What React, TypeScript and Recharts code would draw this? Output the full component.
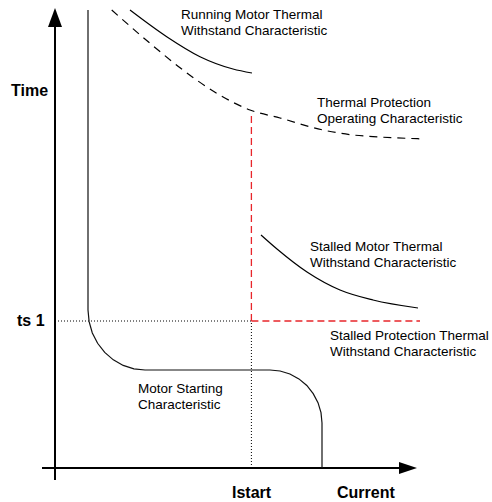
import React from 'react';
import { ComposedChart, Line, XAxis, YAxis, ReferenceLine, ReferenceDot } from 'recharts';

// units: current (x) 0..100, time (y) 0..120
const startingCurve = [
  { x: 13.25, y: 119.5 },
  { x: 13.25, y: 44.5 },
  { x: 13.53, y: 41.58 },
  { x: 14.33, y: 38.75 },
  { x: 15.65, y: 36.18 },
  { x: 17.43, y: 33.9 },
  { x: 19.58, y: 32.03 },
  { x: 22.05, y: 30.65 },
  { x: 24.73, y: 29.8 },
  { x: 27.5, y: 29.5 },
  { x: 58.75, y: 29.5 },
  { x: 61.28, y: 29.25 },
  { x: 63.73, y: 28.5 },
  { x: 65.98, y: 27.28 },
  { x: 67.95, y: 25.63 },
  { x: 69.55, y: 23.6 },
  { x: 70.75, y: 21.33 },
  { x: 71.5, y: 18.83 },
  { x: 71.75, y: 16.25 },
  { x: 71.75, y: 5 },
];

const runningWithstand = [
  { x: 23.75, y: 119.5 },
  { x: 32.93, y: 112.83 },
  { x: 41.25, y: 107.83 },
  { x: 49.5, y: 104.75 },
  { x: 54.25, y: 103.75 },
];

const thermalProtection = [
  { x: 19.18, y: 119.5 },
  { x: 28.75, y: 111.18 },
  { x: 37, y: 104.5 },
  { x: 45.43, y: 98.68 },
  { x: 53.75, y: 94.5 },
  { x: 61.25, y: 92.5 },
  { x: 72, y: 89.5 },
  { x: 79.5, y: 88.25 },
  { x: 84.5, y: 87.85 },
  { x: 96.25, y: 87.3 },
];

const stalledWithstand = [
  { x: 56.5, y: 63.25 },
  { x: 60.5, y: 59.75 },
  { x: 68, y: 54 },
  { x: 76.25, y: 49.5 },
  { x: 84.5, y: 47 },
  { x: 95.75, y: 45 },
];

const axisOrigin = { x: 5, y: 5 };
const axisEnd = { x: 95.5, y: 120 };
const axisOverhang = { x: 1.75, y: 2 };
const iStart = 54.1;
const ts1 = 41.75;
const redTop = 94;
const redRight = 96.25;

const notes = [
  { x: 36.5, y: 117.25, lines: ['Running Motor Thermal', 'Withstand Characteristic'] },
  { x: 70.5, y: 95.25, lines: ['Thermal Protection', 'Operating Characteristic'] },
  { x: 68.75, y: 59.25, lines: ['Stalled Motor Thermal', 'Withstand Characteristic'] },
  { x: 73.75, y: 37, lines: ['Stalled Protection Thermal', 'Withstand Characteristic'] },
  { x: 25.75, y: 23.75, lines: ['Motor Starting', 'Characteristic'] },
];

const axisNames = [
  { x: -6, y: 98, text: 'Time' },
  { x: -4.5, y: 40.5, text: 'ts 1' },
  { x: 49.25, y: -2.5, text: 'Istart' },
  { x: 75.5, y: -2.5, text: 'Current' },
];

const RED = '#e8262b';
const FONT = '"Liberation Sans", Arial, sans-serif';

const App: React.FC = () => {
  return (
    <div style={{ position: 'absolute', left: 0, top: 0, width: 492, height: 502, fontFamily: FONT }}>
      <ComposedChart width={492} height={502} margin={{ top: 8, right: 57, bottom: 14, left: 35 }}>
        <XAxis dataKey="x" type="number" domain={[0, 100]} allowDataOverflow hide />
        <YAxis dataKey="y" type="number" domain={[0, 120]} allowDataOverflow hide />

        {/* axes */}
        <ReferenceLine
          segment={[{ x: axisOverhang.x, y: axisOrigin.y }, { x: axisEnd.x - 3, y: axisOrigin.y }]}
          stroke="#000"
          strokeWidth={2}
          ifOverflow="visible"
        />
        <ReferenceLine
          segment={[{ x: axisOrigin.x, y: axisOverhang.y }, { x: axisOrigin.x, y: axisEnd.y - 3 }]}
          stroke="#000"
          strokeWidth={2}
          ifOverflow="visible"
        />
        <ReferenceDot
          x={axisEnd.x}
          y={axisOrigin.y}
          r={1}
          ifOverflow="visible"
          shape={(p: any) => (
            <path d={`M${p.cx},${p.cy} L${p.cx - 18},${p.cy - 6} L${p.cx - 18},${p.cy + 6} Z`} fill="#000" />
          )}
        />
        <ReferenceDot
          x={axisOrigin.x}
          y={axisEnd.y}
          r={1}
          ifOverflow="visible"
          shape={(p: any) => (
            <path d={`M${p.cx},${p.cy} L${p.cx - 7},${p.cy + 19} L${p.cx + 7},${p.cy + 19} Z`} fill="#000" />
          )}
        />

        {/* ts1 / Istart guides */}
        <ReferenceLine
          segment={[{ x: axisOrigin.x, y: ts1 }, { x: iStart, y: ts1 }]}
          stroke="#000"
          strokeDasharray="1 2"
        />
        <ReferenceLine
          segment={[{ x: iStart, y: axisOrigin.y }, { x: iStart, y: ts1 }]}
          stroke="#000"
          strokeDasharray="1 2"
        />
        <ReferenceLine
          segment={[{ x: iStart, y: ts1 }, { x: redRight, y: ts1 }]}
          stroke={RED}
          strokeWidth={1.3}
          strokeDasharray="7 4"
        />
        <ReferenceLine
          segment={[{ x: iStart, y: ts1 }, { x: iStart, y: redTop }]}
          stroke={RED}
          strokeWidth={1.3}
          strokeDasharray="7 4"
        />

        <Line data={startingCurve} dataKey="y" type="linear" stroke="#111" strokeWidth={1.2} dot={false} activeDot={false} isAnimationActive={false} />
        <Line data={runningWithstand} dataKey="y" type="monotone" stroke="#000" strokeWidth={1.2} dot={false} activeDot={false} isAnimationActive={false} />
        <Line data={thermalProtection} dataKey="y" type="monotone" stroke="#000" strokeWidth={1.2} strokeDasharray="8 6" dot={false} activeDot={false} isAnimationActive={false} />
        <Line data={stalledWithstand} dataKey="y" type="monotone" stroke="#000" strokeWidth={1.2} dot={false} activeDot={false} isAnimationActive={false} />

        {notes.map((n, i) => (
          <ReferenceDot
            key={'n' + i}
            x={n.x}
            y={n.y}
            r={1}
            ifOverflow="visible"
            shape={(p: any) => (
              <text x={p.cx} y={p.cy} fontSize={13.5} fill="#000" fontFamily={FONT}>
                {n.lines.map((l, j) => (
                  <tspan key={j} x={p.cx} dy={j === 0 ? 0 : 16}>
                    {l}
                  </tspan>
                ))}
              </text>
            )}
          />
        ))}
        {axisNames.map((a, i) => (
          <ReferenceDot
            key={'a' + i}
            x={a.x}
            y={a.y}
            r={1}
            ifOverflow="visible"
            shape={(p: any) => (
              <text x={p.cx} y={p.cy} fontSize={16} fontWeight="bold" fill="#000" fontFamily={FONT}>
                {a.text}
              </text>
            )}
          />
        ))}
      </ComposedChart>
    </div>
  );
};

export default App;
